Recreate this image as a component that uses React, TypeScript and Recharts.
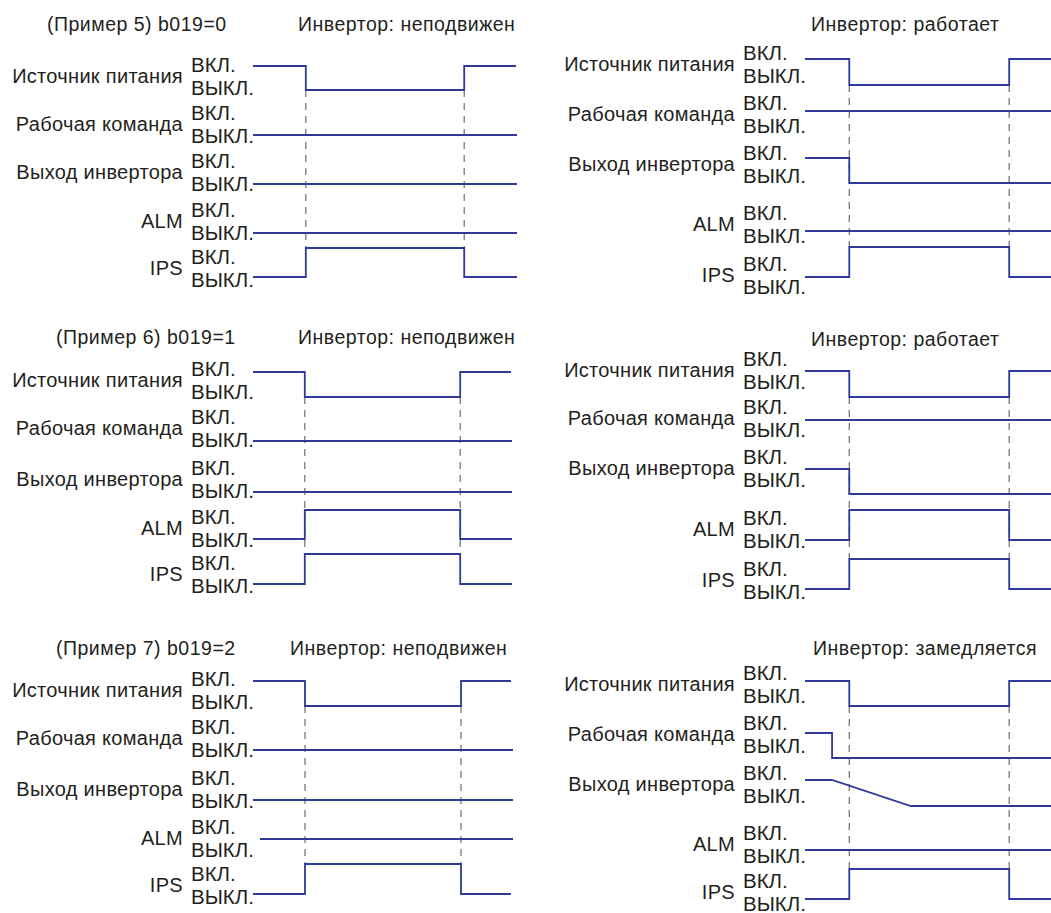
import { LineChart, Line, XAxis, YAxis, ReferenceLine } from 'recharts';

// signal names and level labels
const SIGNALS = ['Источник питания', 'Рабочая команда', 'Выход инвертора', 'ALM', 'IPS'];
const ON_LABEL = 'ВКЛ.';
const OFF_LABEL = 'ВЫКЛ.';

// titles of the six diagrams
const TITLE_EX5 = '(Пример 5) b019=0';
const TITLE_EX6 = '(Пример 6) b019=1';
const TITLE_EX7 = '(Пример 7) b019=2';
const STATE_STOP = 'Инвертор: неподвижен';
const STATE_RUN = 'Инвертор: работает';
const STATE_DECEL = 'Инвертор: замедляется';

// [time, state] vertices, time 0..100, state 1 = ВКЛ., 0 = ВЫКЛ.
const ex5StopPower = [[0, 1], [20, 1], [20, 0], [80, 0], [80, 1], [99.6, 1]];
const ex5StopRun = [[0, 0], [100, 0]];
const ex5StopOut = [[0, 0], [100, 0]];
const ex5StopAlm = [[0, 0], [100, 0]];
const ex5StopIps = [[0, 0], [20, 0], [20, 1], [80, 1], [80, 0], [100, 0]];

const ex5RunPower = [[0, 1], [18, 1], [18, 0], [83, 0], [83, 1], [100, 1]];
const ex5RunRun = [[0, 1], [100, 1]];
const ex5RunOut = [[0, 1], [18, 1], [18, 0], [100, 0]];
const ex5RunAlm = [[0, 0], [100, 0]];
const ex5RunIps = [[0, 0], [18, 0], [18, 1], [83, 1], [83, 0], [100, 0]];

const ex6StopPower = [[0, 1], [20, 1], [20, 0], [80, 0], [80, 1], [99.6, 1]];
const ex6StopRun = [[0, 0], [100, 0]];
const ex6StopOut = [[0, 0], [100, 0]];
const ex6StopAlm = [[0, 0], [20, 0], [20, 1], [80, 1], [80, 0], [100, 0]];
const ex6StopIps = [[0, 0], [20, 0], [20, 1], [80, 1], [80, 0], [100, 0]];

const ex6RunPower = [[0, 1], [18, 1], [18, 0], [83, 0], [83, 1], [100, 1]];
const ex6RunRun = [[0, 1], [100, 1]];
const ex6RunOut = [[0, 1], [18, 1], [18, 0], [100, 0]];
const ex6RunAlm = [[0, 0], [18, 0], [18, 1], [83, 1], [83, 0], [100, 0]];
const ex6RunIps = [[0, 0], [18, 0], [18, 1], [83, 1], [83, 0], [100, 0]];

const ex7StopPower = [[0, 1], [20, 1], [20, 0], [80, 0], [80, 1], [99.2, 1]];
const ex7StopRun = [[0, 0], [100, 0]];
const ex7StopOut = [[0, 0], [100, 0]];
const ex7StopAlm = [[2.7, 0], [100, 0]];
const ex7StopIps = [[0, 0], [20, 0], [20, 1], [80, 1], [80, 0], [99.2, 0]];

const ex7DecelPower = [[0, 1], [18, 1], [18, 0], [83, 0], [83, 1], [100, 1]];
const ex7DecelRun = [[0, 1], [11, 1], [11, 0], [100, 0]];
const ex7DecelOut = [[0, 1], [11, 1], [43, 0], [100, 0]];
const ex7DecelAlm = [[0, 0], [100, 0]];
const ex7DecelIps = [[0, 0], [18, 0], [18, 1], [83, 1], [83, 0], [100, 0]];

// moments of power loss / recovery (dashed markers)
const CUTS_LEFT = [20, 80];
const CUTS_RIGHT = [18, 83];

const LINE = '#2e3a96';
const TEXT = '#231f20';
const DASH = '#6e6e6e';
const FONT = "'Liberation Sans', Arial, Helvetica, sans-serif";

const panels = [
  {
    x: 0, y: 0, w: 525, h: 300, start: 253, end: 517,
    off: [90, 135, 184, 233, 277], on: [66, 110, 160, 209, 248],
    mid: [76, 124, 172, 221, 268], dash: [90, 248], cuts: CUTS_LEFT,
    series: [ex5StopPower, ex5StopRun, ex5StopOut, ex5StopAlm, ex5StopIps],
    titles: [{ text: TITLE_EX5, x: 47, y: 24 }, { text: STATE_STOP, x: 298, y: 24 }],
  },
  {
    x: 530, y: 0, w: 521, h: 300, start: 275, end: 521,
    off: [85, 136, 183, 231, 277], on: [59, 111, 158, 207, 247],
    mid: [64, 114, 164, 224, 275], dash: [85, 247], cuts: CUTS_RIGHT,
    series: [ex5RunPower, ex5RunRun, ex5RunOut, ex5RunAlm, ex5RunIps],
    titles: [{ text: STATE_RUN, x: 281, y: 24 }],
  },
  {
    x: 0, y: 310, w: 525, h: 300, start: 253, end: 512,
    off: [87, 131, 182, 229, 274], on: [62, 107, 158, 200, 244],
    mid: [70, 118, 169, 218, 264], dash: [87, 244], cuts: CUTS_LEFT,
    series: [ex6StopPower, ex6StopRun, ex6StopOut, ex6StopAlm, ex6StopIps],
    titles: [{ text: TITLE_EX6, x: 56, y: 27 }, { text: STATE_STOP, x: 298, y: 27 }],
  },
  {
    x: 530, y: 310, w: 521, h: 300, start: 275, end: 521,
    off: [87, 135, 184, 230, 279], on: [61, 110, 159, 200, 249],
    mid: [60, 108, 158, 219, 270], dash: [87, 249], cuts: CUTS_RIGHT,
    series: [ex6RunPower, ex6RunRun, ex6RunOut, ex6RunAlm, ex6RunIps],
    titles: [{ text: STATE_RUN, x: 281, y: 29 }],
  },
  {
    x: 0, y: 620, w: 525, h: 293, start: 253, end: 513,
    off: [86, 130, 180, 219, 274], on: [61, 106, 156, 195, 244],
    mid: [70, 118, 169, 218, 265], dash: [86, 244], cuts: CUTS_LEFT,
    series: [ex7StopPower, ex7StopRun, ex7StopOut, ex7StopAlm, ex7StopIps],
    titles: [{ text: TITLE_EX7, x: 56, y: 28 }, { text: STATE_STOP, x: 290, y: 28 }],
  },
  {
    x: 530, y: 620, w: 521, h: 293, start: 275, end: 521,
    off: [86, 138, 186, 230, 279], on: [61, 113, 160, 205, 249],
    mid: [64, 114, 164, 224, 272], dash: [86, 249], cuts: CUTS_RIGHT,
    series: [ex7DecelPower, ex7DecelRun, ex7DecelOut, ex7DecelAlm, ex7DecelIps],
    titles: [{ text: STATE_DECEL, x: 283, y: 28 }],
  },
];

function Panel({ p }: { p: any }) {
  const renderTick = (props: any) => {
    const { x, y, payload } = props;
    const i = p.mid.indexOf(payload.value);
    return (
      <g fontFamily={FONT} fill={TEXT}>
        <text x={x - 70} y={y} dy="0.35em" textAnchor="end" fontSize={20} letterSpacing={0.3}>
          {SIGNALS[i]}
        </text>
        <text x={x - 62} y={y - 11} dy="0.35em" fontSize={20.5}>{ON_LABEL}</text>
        <text x={x - 62} y={y + 12} dy="0.35em" fontSize={20.5}>{OFF_LABEL}</text>
      </g>
    );
  };

  return (
    <div style={{ position: 'absolute', left: p.x, top: p.y, width: p.w, height: p.h }}>
      {p.titles.map((t: any) => (
        <div
          key={t.text}
          style={{
            position: 'absolute', left: t.x, top: t.y, transform: 'translateY(-50%)',
            fontFamily: FONT, fontSize: 19.5, letterSpacing: 0.5, color: TEXT, whiteSpace: 'nowrap',
          }}
        >
          {t.text}
        </div>
      ))}
      <LineChart width={p.w} height={p.h} margin={{ top: 0, right: p.w - p.end, bottom: 0, left: 0 }}>
        <XAxis dataKey="t" type="number" domain={[0, 100]} allowDataOverflow hide />
        <YAxis
          type="number"
          domain={[0, p.h]}
          reversed
          allowDataOverflow
          width={p.start}
          ticks={p.mid}
          interval={0}
          axisLine={false}
          tickLine={false}
          tickSize={0}
          tickMargin={0}
          tick={renderTick}
        />
        {p.cuts.map((c: number) => (
          <ReferenceLine
            key={c}
            segment={[{ x: c, y: p.dash[0] }, { x: c, y: p.dash[1] }]}
            stroke={DASH}
            strokeWidth={1.2}
            strokeDasharray="7 6"
          />
        ))}
        {p.series.map((s: number[][], i: number) => (
          <Line
            key={SIGNALS[i]}
            data={s.map(([t, st]) => ({ t, v: p.off[i] - st * (p.off[i] - p.on[i]) }))}
            dataKey="v"
            type="linear"
            stroke={LINE}
            strokeWidth={1.8}
            dot={false}
            activeDot={false}
            isAnimationActive={false}
          />
        ))}
      </LineChart>
    </div>
  );
}

export default function App() {
  return (
    <div style={{ position: 'absolute', left: 0, top: 0, width: 1051, height: 913, background: '#fff', overflow: 'hidden' }}>
      {panels.map((p, k) => (
        <Panel key={k} p={p} />
      ))}
    </div>
  );
}
